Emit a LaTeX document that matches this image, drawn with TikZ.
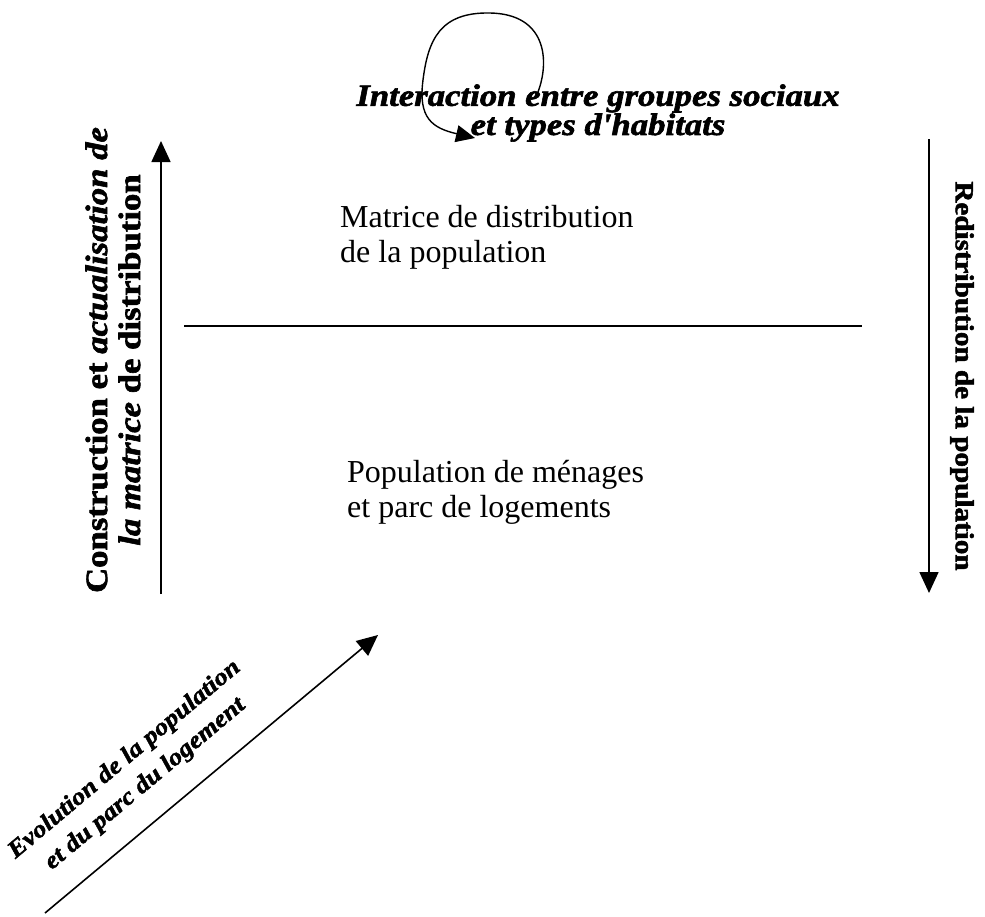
\documentclass[tikz,border=0pt]{standalone}
\usepackage{fontspec}
\setmainfont{Liberation Serif}
\newfontfamily\artfont[FakeStretch=1.12, FakeBold=2]{Liberation Serif}
\usetikzlibrary{arrows.meta}
\begin{document}
\begin{tikzpicture}[x=1pt,y=-1pt,
  flow/.style={line width=1.6pt,-{Triangle[length=21pt,width=19pt]}},
  bodytext/.style={font=\fontsize{32}{35}\selectfont, align=left, inner sep=0pt, anchor=north west},
  arttext/.style={font=\artfont\bfseries, inner sep=0pt, align=center}]
\useasboundingbox (0,0) rectangle (985,916);

% central texts and the separating rule
\node[bodytext] (matrice) at (340,205) {Matrice de distribution\\de la population};
\node[bodytext] (menages) at (347,460) {Population de ménages\\et parc de logements};
\coordinate (ruleL) at (184,326);
\coordinate (ruleR) at (862,326);
\draw[line width=1.5pt] (ruleL) -- (ruleR);

% title with its self-loop
\node[arttext, font=\artfont\bfseries\itshape\fontsize{31}{27}\selectfont] (inter) at (598,113)
  {Interaction entre groupes sociaux\\et types d'habitats};
\coordinate (loopA) at (538,92);
\coordinate (loopB) at (475,138);
\draw[line width=1.4pt, -{Triangle[length=19pt,width=17pt]}]
  (loopA) .. controls (550,60) and (546,14) .. (490,13)
          .. controls (440,12) and (428,40) .. (423,80)
          .. controls (418,118) and (432,128) .. (loopB);

% left: upward arrow with its label
\coordinate (leftB) at (161,594);
\coordinate (leftT) at (161,141);
\draw[flow] (leftB) -- (leftT);
\node[arttext, rotate=90, font=\artfont\bfseries\fontsize{31}{33}\selectfont] (constr) at (113,360)
  {Construction et \textit{actualisation de}\\\textit{la matrice} de distribution};

% right: downward arrow with its label
\coordinate (rightT) at (929,139);
\coordinate (rightB) at (929,593);
\draw[flow] (rightT) -- (rightB);
\node[arttext, rotate=-90, font=\artfont\bfseries\fontsize{26}{28}\selectfont] (redis) at (962,376)
  {Redistribution de la population};

% bottom-left: diagonal arrow with its label
\coordinate (diagS) at (45,913);
\coordinate (diagE) at (378,635);
\draw[flow] (diagS) -- (diagE);
\node[arttext, rotate=40, font=\artfont\bfseries\itshape\fontsize{24}{32}\selectfont] (evol) at (135,772)
  {Evolution de la population\\et du parc du logement};
\end{tikzpicture}
\end{document}
